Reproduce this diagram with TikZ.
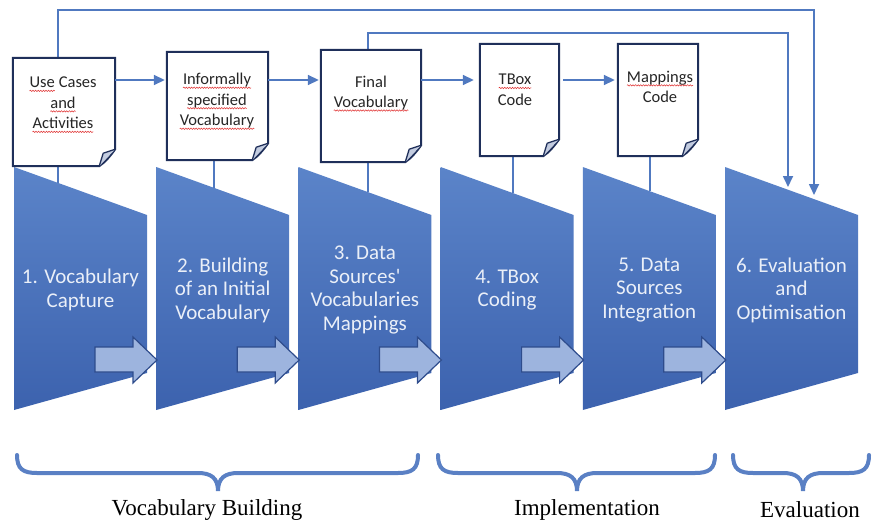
\documentclass[tikz,border=0pt]{standalone}
\usepackage{fontspec}
\setmainfont{Carlito}
\newfontfamily\serifl{Liberation Serif}
\usetikzlibrary{arrows.meta,calc,decorations.pathmorphing}
\definecolor{trtop}{HTML}{5B84C9}
\definecolor{trbot}{HTML}{3C62AE}
\definecolor{conn}{HTML}{5079C0}
\definecolor{docdraw}{HTML}{1F2F5A}
\definecolor{arrfill}{HTML}{9DB4DE}
\definecolor{arrdraw}{HTML}{2E4C8C}
\definecolor{fold}{HTML}{C3CCE0}
\definecolor{spell}{HTML}{E03030}
\definecolor{bracec}{HTML}{5A80C4}
\definecolor{doctextc}{HTML}{262626}
\definecolor{steptextc}{HTML}{EAEFF8}
\newcommand\sqw[1]{\tikz[baseline=(w.base),x=1pt,y=1pt]{\node[inner sep=0,outer sep=0] (w) {#1};
  \draw[spell,line width=0.5pt,decorate,decoration={snake,amplitude=0.7pt,segment length=2.6pt}] ([yshift=-3pt]w.base west) -- ([yshift=-3pt]w.base east);}}
\newcommand\docshape[1]{%
  \draw[docline,fill=white] (#1.north west) -- (#1.north east) -- ($(#1.south east)+(0,-17)$)
    .. controls ($(#1.south east)+(-5,-10)$) and ($(#1.south east)+(-10,-4)$) .. ($(#1.south east)+(-16,0)$)
    -- (#1.south west) -- cycle;
  \draw[docline,line width=1.3pt,fill=fold,line join=round] ($(#1.south east)+(0,-17)$) -- ($(#1.south east)+(-12,-13)$) -- ($(#1.south east)+(-16,0)$);
}
\tikzset{
  docbox/.style={draw=none,minimum width=#1,inner sep=0},
  docline/.style={draw=docdraw,line width=2pt,line join=miter},
  doctext/.style={align=center,font=\fontsize{16.5}{20.5}\selectfont,text=doctextc,inner sep=0},
  steptext/.style={align=center,font=\fontsize{21}{23.5}\selectfont,text=steptextc,inner sep=0},
  connline/.style={draw=conn,line width=1.7pt},
  connarrow/.style={connline,-{Triangle[length=11pt,width=10pt]}},
  blockarrow/.style={fill=arrfill,draw=arrdraw,line width=1.2pt,line join=miter},
  bracepath/.style={draw=bracec,line width=4pt,line cap=round},
  bracelabel/.style={font=\serifl\fontsize{23}{26}\selectfont,inner sep=0,text=black}
}
\begin{document}
\begin{tikzpicture}[x=1pt,y=-1pt]
\useasboundingbox (0,0) rectangle (877,525);

% trapezoids
\foreach \i in {0,...,5} {
  \pgfmathsetmacro\L{14+142.2*\i}
  \shade[top color=trtop,bottom color=trbot] (\L,167) -- (\L+133,215) -- (\L+133,373) -- (\L,410) -- cycle;
}
% block arrows
\foreach \i in {0,...,4} {
  \pgfmathsetmacro\X{95+142.2*\i}
  \draw[blockarrow] (\X,347) -- (\X+38,347) -- (\X+38,337) -- (\X+62,360) -- (\X+38,383) -- (\X+38,372) -- (\X,372) -- cycle;
}
% step texts
\node[steptext] (s1) at (80.5,290) {1. Vocabulary\\Capture};
\node[steptext] (s2) at (222.7,290) {2. Building\\of an Initial\\Vocabulary};
\node[steptext] (s3) at (364.9,290) {3. Data\\Sources\textquotesingle\\Vocabularies\\Mappings};
\node[steptext] (s4) at (507.1,290) {4. TBox\\Coding};
\node[steptext] (s5) at (649.3,290) {5. Data\\Sources\\Integration};
\node[steptext] (s6) at (791.5,290) {6. Evaluation\\and\\Optimisation};

% documents
\node[docbox=102pt,minimum height=108pt] (d1) at (64,112) {};
\node[docbox=101pt,minimum height=108pt] (d2) at (217.5,106) {};
\node[docbox=100pt,minimum height=112pt] (d3) at (371,106) {};
\node[docbox=79pt,minimum height=112pt] (d4) at (519.5,100) {};
\node[docbox=80pt,minimum height=112pt] (d5) at (658,100) {};

% connectors doc -> step
\draw[connline] ([xshift=-6]d1.south) -- ++(0,17);
\draw[connline] ([xshift=-3.5]d2.south) -- ++(0,28);
\draw[connline] ([xshift=-3]d3.south) -- ++(0,30);
\draw[connline] ([xshift=-6.5]d4.south) -- ++(0,37);
\draw[connline] ([xshift=-8]d5.south) -- ++(0,35);

% feedback lines
\coordinate (fb1) at (814,195);
\coordinate (fb2) at (788,187);
\draw[connarrow] ([xshift=-6]d1.north) -- ++(0,-48) -| (fb1);
\draw[connarrow] ([xshift=-3]d3.north) -- ++(0,-17) -| (fb2);

\docshape{d1}
\docshape{d2}
\docshape{d3}
\docshape{d4}
\docshape{d5}

\node[doctext] (t1) at (63,105) {\sqw{Use} Cases\\\sqw{and}\\\sqw{Activities}};
\node[doctext] (t2) at (217,101.5) {\sqw{Informally}\\\sqw{specified}\\\sqw{Vocabulary}};
\node[doctext] (t3) at (371,93.5) {Final\\\sqw{Vocabulary}};
\node[doctext] (t4) at (515,90) {\sqw{TBox}\\Code};
\node[doctext] (t5) at (660,87) {\sqw{Mappings}\\Code};

% doc -> doc arrows
\draw[connarrow] ([yshift=32]d1.east) -- ([xshift=-2,yshift=26]d2.west);
\draw[connarrow] ([yshift=26]d2.east) -- ([xshift=-2,yshift=26]d3.west);
\draw[connarrow] ([yshift=26]d3.east) -- ([xshift=-6,yshift=20]d4.west);
\draw[connarrow] ([xshift=4,yshift=20]d4.east) -- ([xshift=-3,yshift=20]d5.west);

% braces
\foreach \a/\m/\b in {17/218/418, 438/577/715, 733/803/869} {
  \draw[bracepath] (\a,455) .. controls (\a,469) and (\a+6,473) .. (\a+20,473)
    -- (\m-20,473) .. controls (\m-7,473) and (\m,478) .. (\m,491)
    .. controls (\m,478) and (\m+7,473) .. (\m+20,473)
    -- (\b-20,473) .. controls (\b-6,473) and (\b,469) .. (\b,455);
}
\node[bracelabel] (b1) at (207,510) {Vocabulary Building};
\node[bracelabel] (b2) at (587,510) {Implementation};
\node[bracelabel] (b3) at (810,510) {Evaluation};
\end{tikzpicture}
\end{document}
